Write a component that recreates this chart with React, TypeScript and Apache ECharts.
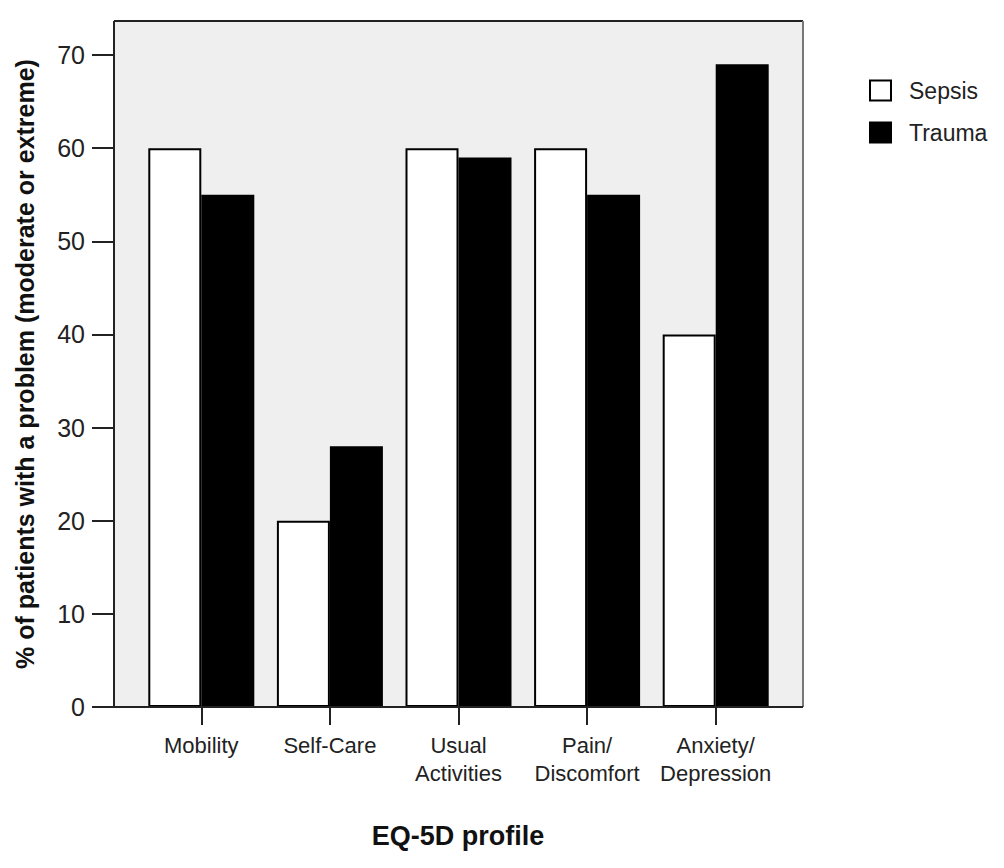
import React, { useEffect, useRef } from "react";
import * as echarts from "echarts";

const categories = ["Mobility", "Self-Care", "Usual\nActivities", "Pain/\nDiscomfort", "Anxiety/\nDepression"];
const sepsisValues = [60, 20, 60, 60, 40];
const traumaValues = [55, 28, 59, 55, 69];
const yTicks = [0, 10, 20, 30, 40, 50, 60, 70];
const yTitle = "% of patients with a problem (moderate or extreme)";
const xTitle = "EQ-5D profile";

const FONT = "'Liberation Sans', Arial, sans-serif";

export default function App() {
  const ref = useRef<HTMLDivElement>(null);
  useEffect(() => {
    if (!ref.current) return;
    const chart = echarts.init(ref.current, undefined, { renderer: "svg" });
    const frameL = 114, frameT = 21, frameR = 803, frameB = 707;
    chart.setOption({
      animation: false,
      backgroundColor: "#ffffff",
      grid: { left: 137, right: 1004 - 780, top: 55, bottom: 868 - 707, containLabel: false },
      legend: {
        orient: "vertical",
        left: 869,
        top: 79,
        padding: 0,
        itemWidth: 21,
        itemHeight: 20,
        itemGap: 19,
        icon: "rect",
        textStyle: { fontFamily: FONT, fontSize: 23, color: "#222", padding: [0, 0, 0, 13] },
        data: ["Sepsis", "Trauma"],
      },
      xAxis: {
        type: "category",
        data: categories,
        axisLine: { show: false },
        axisTick: { show: true, alignWithLabel: true, length: 18, lineStyle: { color: "#222", width: 2 } },
        axisLabel: { fontFamily: FONT, fontSize: 22, color: "#222", lineHeight: 28, margin: 24, interval: 0 },
      },
      yAxis: {
        type: "value",
        min: 0,
        max: 70,
        interval: 10,
        offset: 23,
        splitLine: { show: false },
        axisLine: { show: false },
        axisTick: { show: true, length: 22, lineStyle: { color: "#222", width: 2 } },
        axisLabel: {
          fontFamily: FONT,
          fontSize: 25,
          color: "#222",
          margin: 29,
          formatter: (v: number) => (yTicks.includes(v) ? String(v) : ""),
        },
      },
      graphic: [
        {
          type: "rect",
          z: -10,
          shape: { x: frameL, y: frameT, width: frameR - frameL, height: frameB - frameT },
          style: { fill: "#efefef" },
        },
        { type: "line", z: 100, shape: { x1: frameL, y1: frameT, x2: frameR, y2: frameT }, style: { stroke: "#222", lineWidth: 2 } },
        { type: "line", z: 100, shape: { x1: frameL, y1: frameT, x2: frameL, y2: frameB }, style: { stroke: "#222", lineWidth: 2 } },
        { type: "line", z: 100, shape: { x1: frameR, y1: frameT, x2: frameR, y2: frameB }, style: { stroke: "#777", lineWidth: 2 } },
        { type: "line", z: 100, shape: { x1: frameL, y1: frameB, x2: frameR, y2: frameB }, style: { stroke: "#222", lineWidth: 2 } },
        {
          type: "text",
          z: 100,
          x: 25,
          y: 364,
          rotation: Math.PI / 2,
          style: {
            text: yTitle,
            fontFamily: FONT,
            fontWeight: "bold",
            fontSize: 25,
            fill: "#111",
            textAlign: "center",
            textVerticalAlign: "middle",
          },
        },
        {
          type: "text",
          z: 100,
          x: 458,
          y: 836,
          style: {
            text: xTitle,
            fontFamily: FONT,
            fontWeight: "bold",
            fontSize: 27,
            fill: "#111",
            textAlign: "center",
            textVerticalAlign: "middle",
          },
        },
      ],
      series: [
        {
          name: "Sepsis",
          type: "bar",
          data: sepsisValues,
          barWidth: 53,
          barGap: "0%",
          itemStyle: { color: "#ffffff", borderColor: "#000", borderWidth: 2 },
        },
        {
          name: "Trauma",
          type: "bar",
          data: traumaValues,
          barWidth: 53,
          barGap: "0%",
          itemStyle: { color: "#000000", borderColor: "#000", borderWidth: 2 },
        },
      ],
    });
    return () => chart.dispose();
  }, []);
  return <div ref={ref} style={{ position: "fixed", left: 0, top: 0, width: 1004, height: 868 }} />;
}
